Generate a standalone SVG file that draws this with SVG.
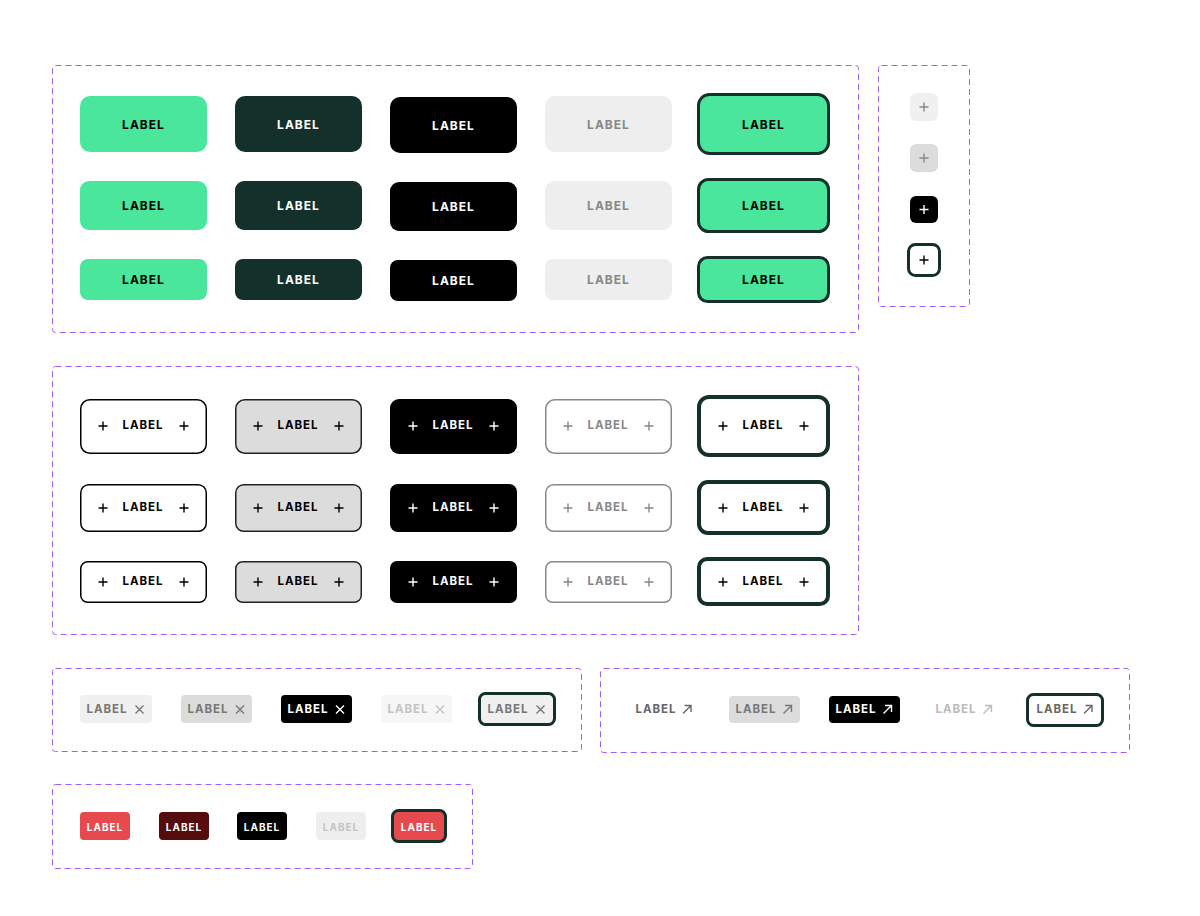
<svg xmlns="http://www.w3.org/2000/svg" width="1200" height="916" viewBox="0 0 1200 916">
<style>
.fr{fill:none;stroke:#a05cff;stroke-width:1;stroke-dasharray:6 4}
text{font-family:Inter,"Liberation Sans",sans-serif;font-weight:700;letter-spacing:1px;text-anchor:middle;dominant-baseline:central}
.t12{font-size:12px}.t11{font-size:11.5px}.t10{font-size:10px}
.g{fill:#4ae69b}.d{fill:#13302a}.k{fill:#000}.l{fill:#eeeeee}
.foc{stroke:#13302a;stroke-width:3}
.pl{stroke-width:1.4;fill:none}
</style>
<defs>
<path id="plus" d="M-4.5 0H4.5M0 -4.5V4.5"/>
<path id="x" d="M-4 -4L4 4M4 -4L-4 4"/>
<path id="ar" d="M-4 4L4 -4M-2.5 -4H4V2.5"/>
</defs>
<g id="frames">
<rect class="fr" x="52.5" y="65.5" width="806" height="267" rx="3"/>
<rect class="fr" x="878.5" y="65.5" width="91" height="241" rx="3"/>
<rect class="fr" x="52.5" y="366.5" width="806" height="268" rx="3"/>
<rect class="fr" x="52.5" y="668.5" width="529" height="83" rx="3"/>
<rect class="fr" x="600.5" y="668.5" width="529" height="84" rx="3"/>
<rect class="fr" x="52.5" y="784.5" width="420" height="84" rx="3"/>
</g>
<g id="solid-buttons">
<rect class="g" x="80" y="96" width="127" height="56" rx="10"/><text class="t12" x="143.5" y="124" fill="#000">LABEL</text>
<rect class="d" x="235" y="96" width="127" height="56" rx="10"/><text class="t12" x="298.5" y="124" fill="#fff">LABEL</text>
<rect class="k" x="390" y="97" width="127" height="56" rx="10"/><text class="t12" x="453.5" y="125" fill="#fff">LABEL</text>
<rect class="l" x="545" y="96" width="127" height="56" rx="10"/><text class="t12" x="608.5" y="124" fill="#888">LABEL</text>
<rect class="g foc" x="698.5" y="94.5" width="130" height="59" rx="11"/><text class="t12" x="763.5" y="124" fill="#000">LABEL</text>

<rect class="g" x="80" y="181" width="127" height="49" rx="9"/><text class="t12" x="143.5" y="205" fill="#000">LABEL</text>
<rect class="d" x="235" y="181" width="127" height="49" rx="9"/><text class="t12" x="298.5" y="205" fill="#fff">LABEL</text>
<rect class="k" x="390" y="182" width="127" height="49" rx="9"/><text class="t12" x="453.5" y="206" fill="#fff">LABEL</text>
<rect class="l" x="545" y="181" width="127" height="49" rx="9"/><text class="t12" x="608.5" y="205" fill="#888">LABEL</text>
<rect class="g foc" x="698.5" y="179.5" width="130" height="52" rx="10"/><text class="t12" x="763.5" y="205" fill="#000">LABEL</text>

<rect class="g" x="80" y="259" width="127" height="41" rx="8"/><text class="t12" x="143.5" y="279.5" fill="#000">LABEL</text>
<rect class="d" x="235" y="259" width="127" height="41" rx="8"/><text class="t12" x="298.5" y="279.5" fill="#fff">LABEL</text>
<rect class="k" x="390" y="260" width="127" height="41" rx="8"/><text class="t12" x="453.5" y="280.5" fill="#fff">LABEL</text>
<rect class="l" x="545" y="259" width="127" height="41" rx="8"/><text class="t12" x="608.5" y="279.5" fill="#888">LABEL</text>
<rect class="g foc" x="698.5" y="257.5" width="130" height="44" rx="9"/><text class="t12" x="763.5" y="279.5" fill="#000">LABEL</text>
</g>
<g id="icon-buttons">
<rect x="910" y="93" width="28" height="28" rx="6" fill="#f0f0f0"/><use href="#plus" x="924" y="107" class="pl" stroke="#888" transform=""/>
<rect x="910" y="144" width="28" height="28" rx="6" fill="#dcdcdc"/><use href="#plus" x="924" y="158" class="pl" stroke="#888"/>
<rect x="910" y="196" width="28" height="27" rx="6" fill="#000"/><use href="#plus" x="924" y="209.5" class="pl" stroke="#fff" stroke-width="1.8"/>
<rect x="908.5" y="244.5" width="31" height="31" rx="7" fill="#fff" class="foc"/><use href="#plus" x="924" y="260" class="pl" stroke="#000"/>
</g>
<g id="icon-label-buttons">
<g id="r1">
<rect x="80.75" y="399.75" width="125.5" height="53.5" rx="9" fill="#fff" stroke="#000" stroke-width="1.5"/>
<rect x="235.75" y="399.75" width="125.5" height="53.5" rx="9" fill="#dcdcdc" stroke="#222" stroke-width="1.5"/>
<rect x="390" y="399" width="127" height="55" rx="9" fill="#000"/>
<rect x="545.75" y="399.75" width="125.5" height="53.5" rx="9" fill="#fff" stroke="#888" stroke-width="1.5"/>
<rect x="699" y="397" width="129" height="58" rx="10" fill="#fff" stroke="#13302a" stroke-width="4"/>
</g>
<rect x="80.75" y="484.75" width="125.5" height="46.5" rx="8" fill="#fff" stroke="#000" stroke-width="1.5"/>
<rect x="235.75" y="484.75" width="125.5" height="46.5" rx="8" fill="#dcdcdc" stroke="#222" stroke-width="1.5"/>
<rect x="390" y="484" width="127" height="48" rx="8" fill="#000"/>
<rect x="545.75" y="484.75" width="125.5" height="46.5" rx="8" fill="#fff" stroke="#888" stroke-width="1.5"/>
<rect x="699" y="482" width="129" height="51" rx="9" fill="#fff" stroke="#13302a" stroke-width="4"/>

<rect x="80.75" y="561.75" width="125.5" height="40.5" rx="7" fill="#fff" stroke="#000" stroke-width="1.5"/>
<rect x="235.75" y="561.75" width="125.5" height="40.5" rx="7" fill="#dcdcdc" stroke="#222" stroke-width="1.5"/>
<rect x="390" y="561" width="127" height="42" rx="7" fill="#000"/>
<rect x="545.75" y="561.75" width="125.5" height="40.5" rx="7" fill="#fff" stroke="#888" stroke-width="1.5"/>
<rect x="699" y="559" width="129" height="45" rx="8" fill="#fff" stroke="#13302a" stroke-width="4"/>

<g class="t11">
<text class="t11" x="143" y="425" fill="#000">LABEL</text><text class="t11" x="298" y="425" fill="#000">LABEL</text><text class="t11" x="453" y="425" fill="#fff">LABEL</text><text class="t11" x="608" y="425" fill="#888">LABEL</text><text class="t11" x="763" y="425" fill="#000">LABEL</text>
<text class="t11" x="143" y="507" fill="#000">LABEL</text><text class="t11" x="298" y="507" fill="#000">LABEL</text><text class="t11" x="453" y="507" fill="#fff">LABEL</text><text class="t11" x="608" y="507" fill="#888">LABEL</text><text class="t11" x="763" y="507" fill="#000">LABEL</text>
<text class="t11" x="143" y="581" fill="#000">LABEL</text><text class="t11" x="298" y="581" fill="#000">LABEL</text><text class="t11" x="453" y="581" fill="#fff">LABEL</text><text class="t11" x="608" y="581" fill="#888">LABEL</text><text class="t11" x="763" y="581" fill="#000">LABEL</text>
</g>
<g class="pl" stroke-width="1.3">
<use href="#plus" x="103" y="426" stroke="#000"/><use href="#plus" x="184" y="426" stroke="#000"/>
<use href="#plus" x="258" y="426" stroke="#000"/><use href="#plus" x="339" y="426" stroke="#000"/>
<use href="#plus" x="413" y="426" stroke="#fff"/><use href="#plus" x="494" y="426" stroke="#fff"/>
<use href="#plus" x="568" y="426" stroke="#888"/><use href="#plus" x="649" y="426" stroke="#888"/>
<use href="#plus" x="723" y="426" stroke="#000"/><use href="#plus" x="804" y="426" stroke="#000"/>
<use href="#plus" x="103" y="508" stroke="#000"/><use href="#plus" x="184" y="508" stroke="#000"/>
<use href="#plus" x="258" y="508" stroke="#000"/><use href="#plus" x="339" y="508" stroke="#000"/>
<use href="#plus" x="413" y="508" stroke="#fff"/><use href="#plus" x="494" y="508" stroke="#fff"/>
<use href="#plus" x="568" y="508" stroke="#888"/><use href="#plus" x="649" y="508" stroke="#888"/>
<use href="#plus" x="723" y="508" stroke="#000"/><use href="#plus" x="804" y="508" stroke="#000"/>
<use href="#plus" x="103" y="582" stroke="#000"/><use href="#plus" x="184" y="582" stroke="#000"/>
<use href="#plus" x="258" y="582" stroke="#000"/><use href="#plus" x="339" y="582" stroke="#000"/>
<use href="#plus" x="413" y="582" stroke="#fff"/><use href="#plus" x="494" y="582" stroke="#fff"/>
<use href="#plus" x="568" y="582" stroke="#888"/><use href="#plus" x="649" y="582" stroke="#888"/>
<use href="#plus" x="723" y="582" stroke="#000"/><use href="#plus" x="804" y="582" stroke="#000"/>
</g>
</g>
<g id="dismiss-chips">
<rect x="80" y="695" width="72" height="28" rx="4" fill="#f0f0f0"/><text class="t11" x="107" y="708.5" fill="#777">LABEL</text><use href="#x" x="139.5" y="709.5" class="pl" stroke="#777" transform="translate(0,0)"/>
<rect x="181" y="695" width="71" height="28" rx="4" fill="#dcdcdc"/><text class="t11" x="208" y="708.5" fill="#777">LABEL</text><use href="#x" x="240" y="709.5" class="pl" stroke="#777"/>
<rect x="281" y="695" width="71" height="28" rx="4" fill="#000"/><text class="t11" x="308" y="708.5" fill="#fff">LABEL</text><use href="#x" x="340" y="709.5" class="pl" stroke="#fff"/>
<rect x="381" y="695" width="71" height="28" rx="4" fill="#f6f6f6"/><text class="t11" x="408" y="708.5" fill="#c4c4c4">LABEL</text><use href="#x" x="440" y="709.5" class="pl" stroke="#c4c4c4"/>
<rect x="479.5" y="693.5" width="75" height="31" rx="6" fill="#f0f0f0" class="foc"/><text class="t11" x="508" y="708.5" fill="#777">LABEL</text><use href="#x" x="540.5" y="709.5" class="pl" stroke="#777"/>
</g>
<g id="link-chips">
<text class="t11" x="656" y="709" fill="#666">LABEL</text><use href="#ar" x="687" y="709.5" class="pl" stroke="#666"/>
<rect x="729" y="696" width="71" height="27" rx="4" fill="#dcdcdc"/><text class="t11" x="756" y="709" fill="#777">LABEL</text><use href="#ar" x="787.5" y="709.5" class="pl" stroke="#777"/>
<rect x="829" y="696" width="71" height="27" rx="4" fill="#000"/><text class="t11" x="856" y="709" fill="#fff">LABEL</text><use href="#ar" x="887.5" y="709.5" class="pl" stroke="#fff"/>
<text class="t11" x="956" y="709" fill="#bbb">LABEL</text><use href="#ar" x="987.5" y="709.5" class="pl" stroke="#bbb"/>
<rect x="1027.5" y="694.5" width="75" height="31" rx="6" fill="#fff" class="foc"/><text class="t11" x="1057" y="709" fill="#666">LABEL</text><use href="#ar" x="1088" y="709.5" class="pl" stroke="#666"/>
</g>
<g id="small-chips">
<rect x="80" y="812" width="50" height="28" rx="4" fill="#e64a4e"/><text class="t10" x="105" y="826.5" fill="#fff">LABEL</text>
<rect x="159" y="812" width="50" height="28" rx="4" fill="#560b0c"/><text class="t10" x="184" y="826.5" fill="#fff">LABEL</text>
<rect x="237" y="812" width="50" height="28" rx="4" fill="#000"/><text class="t10" x="262" y="826.5" fill="#fff">LABEL</text>
<rect x="316" y="812" width="50" height="28" rx="4" fill="#eeeeee"/><text class="t10" x="341" y="826.5" fill="#c4c4c4">LABEL</text>
<rect x="392.5" y="810.5" width="53" height="31" rx="6" fill="#e64a4e" class="foc"/><text class="t10" x="419" y="826.5" fill="#fff">LABEL</text>
</g>
</svg>
